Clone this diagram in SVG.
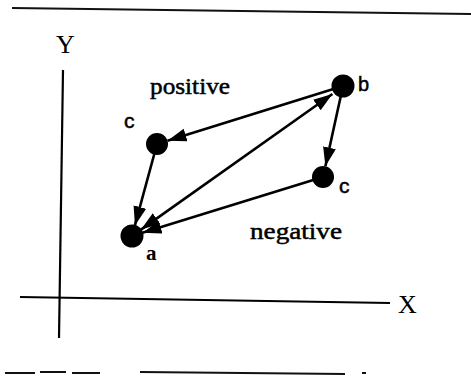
<svg xmlns="http://www.w3.org/2000/svg" width="471" height="378" viewBox="0 0 471 378">
<style>
.rule{stroke:#111;stroke-width:2;fill:none}
.axis{stroke:#000;stroke-width:2.2;fill:none}
.edge{stroke:#000;stroke-width:2.6;fill:none}
.node{fill:#000}
.serif{font-family:"Liberation Serif","Times New Roman",serif;fill:#000}
.sans{font-family:"Liberation Sans",Arial,sans-serif;fill:#000}
.heavy{stroke:#000;stroke-width:0.5}
</style>
<defs>
<marker id="ah" markerUnits="userSpaceOnUse" markerWidth="20" markerHeight="14" refX="19" refY="6.5" orient="auto-start-reverse">
<path d="M0,0 L19,6.5 L0,13 z" fill="#000"/>
</marker>
</defs>
<rect width="471" height="378" fill="#fff"/>
<g id="frame">
<line class="rule" x1="12" y1="8" x2="471" y2="14"/>
<path class="rule" d="M5,373 H35 M40,372 H66 M72,373 H100 M140,372 L345,374 M362,373 H366" stroke-width="1.8"/>
</g>
<g id="axes">
<line class="axis" x1="63" y1="70" x2="59" y2="338"/>
<line class="axis" x1="20" y1="297" x2="390" y2="303"/>
<text class="serif" x="398" y="313" font-size="26">X</text>
<text class="serif" x="56" y="53" font-size="26">Y</text>
</g>
<g id="connectors">
<line class="edge" x1="343" y1="86" x2="167.5" y2="140.7" marker-end="url(#ah)"/>
<line class="edge" x1="157" y1="144" x2="134.9" y2="225.4" marker-end="url(#ah)"/>
<line class="edge" x1="343" y1="86" x2="325.4" y2="166.3" marker-end="url(#ah)"/>
<line class="edge" x1="323" y1="177" x2="142.5" y2="232.8" marker-end="url(#ah)"/>
<line class="edge" x1="141" y1="229.6" x2="332.4" y2="94" marker-start="url(#ah)" marker-end="url(#ah)"/>
</g>
<g id="node-a">
<circle class="node" cx="132" cy="236" r="11.5"/>
<text class="serif" x="146" y="260" font-size="21" font-weight="bold">a</text>
</g>
<g id="node-b">
<circle class="node" cx="343" cy="86" r="11.5"/>
<text class="sans heavy" x="358" y="91" font-size="20">b</text>
</g>
<g id="node-c-left">
<circle class="node" cx="157" cy="144" r="11"/>
<text class="sans heavy" x="124" y="128" font-size="21">c</text>
</g>
<g id="node-c-right">
<circle class="node" cx="323" cy="177" r="11"/>
<text class="sans heavy" x="339" y="193" font-size="21">c</text>
</g>
<g id="labels">
<text class="serif heavy" x="150" y="94" font-size="24" textLength="80" lengthAdjust="spacingAndGlyphs">positive</text>
<text class="serif heavy" x="250" y="239" font-size="24" textLength="92" lengthAdjust="spacingAndGlyphs">negative</text>
</g>
</svg>
